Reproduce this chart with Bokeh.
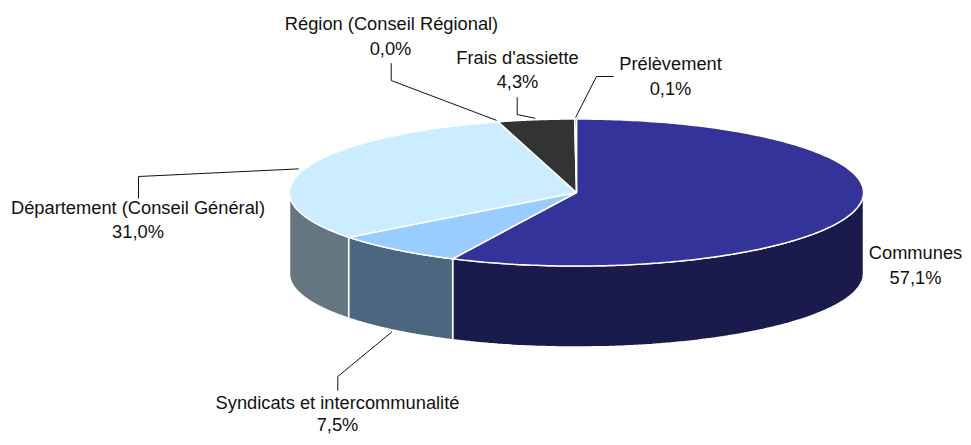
import numpy as np
from bokeh.plotting import figure
from bokeh.models import ColumnDataSource, Range1d
from bokeh.core.properties import value
from bokeh.embed import file_html
from bokeh.resources import INLINE

categories = ["Communes", "Syndicats et intercommunalité", "Département (Conseil Général)",
              "Région (Conseil Régional)", "Frais d'assiette", "Prélèvement"]
shares = [57.1, 7.5, 31.0, 0.0, 4.3, 0.1]
share_labels = ["57,1%", "7,5%", "31,0%", "0,0%", "4,3%", "0,1%"]

top_colors = ["#333399", "#99CCFF", "#CCECFF", "#FFFFFF", "#333333", "#333333"]
wall_colors = ["#1A1A4D", "#4D6680", "#667680", "#808080", "#1A1A1A", "#1A1A1A"]

# layout, in pixels of the picture
PAGE_W, PAGE_H = 963, 437
CX, CY, RX, RY, DEPTH = 576.0, 192.0, 287.0, 73.5, 81.0
name_pos = [(915, 252), (337, 402), (137.5, 207), (391, 23), (517, 57), (670, 63)]
pct_pos = [(915, 277), (337, 424), (137.5, 231), (390, 48), (517, 81), (670, 88)]
elbows = [None, [(337.3, 376), (337.3, 390)], [(138, 176), (138, 198)],
          [(390.7, 80), (390.7, 62.7)], [(516.7, 114), (516.7, 96.7)], [(596, 76), (613, 76)]]

def rim(t, radius=1.0):
    return CX + radius * RX * np.sin(t), CY - radius * RY * np.cos(t)

p = figure(width=PAGE_W, height=PAGE_H, output_backend="svg", toolbar_location=None,
           x_range=Range1d(0, PAGE_W), y_range=Range1d(PAGE_H, 0),
           min_border=0, outline_line_color=None, background_fill_color="white",
           border_fill_color="white")
p.axis.visible = False
p.grid.visible = False

fractions = np.array(shares) / sum(shares)
ends = np.cumsum(fractions) * 2 * np.pi
starts = ends - fractions * 2 * np.pi

# walls of the front half
for a, b, col in zip(starts, ends, wall_colors):
    lo, hi = max(a, np.pi / 2), min(b, 3 * np.pi / 2)
    if hi <= lo:
        continue
    t = np.linspace(lo, hi, 120)
    x, y = rim(t)
    xs = np.concatenate([x, x[::-1]])
    ys = np.concatenate([y, (y + DEPTH)[::-1]])
    p.patch(xs, ys, fill_color=col, line_color="white", line_width=1.5)

# top faces
for a, b, col in zip(starts, ends, top_colors):
    t = np.linspace(a, b, 240)
    x, y = rim(t)
    p.patch(np.concatenate([[CX], x]), np.concatenate([[CY], y]),
            fill_color=col, line_color="white", line_width=1.5)

# leader lines, from each slice's middle to the label
mids = (starts + ends) / 2
for mid, elbow in zip(mids, elbows):
    if elbow is None:
        continue
    x0, y0 = rim(mid, 1.02)
    if np.pi / 2 < mid < 3 * np.pi / 2:
        y0 = y0 + DEPTH
    p.line([x0] + [e[0] for e in elbow], [y0] + [e[1] for e in elbow],
           line_color="#111111", line_width=1)

labels = ColumnDataSource(dict(
    x=[q[0] for q in name_pos] + [q[0] for q in pct_pos],
    y=[q[1] for q in name_pos] + [q[1] for q in pct_pos],
    t=categories + share_labels))
p.text(x="x", y="y", text="t", source=labels, text_align="center", text_baseline="middle",
       text_font=value("Liberation Sans"), text_font_size=value("18.3px"), text_color="#111111")

open("out.html", "w").write(file_html(p, INLINE))
